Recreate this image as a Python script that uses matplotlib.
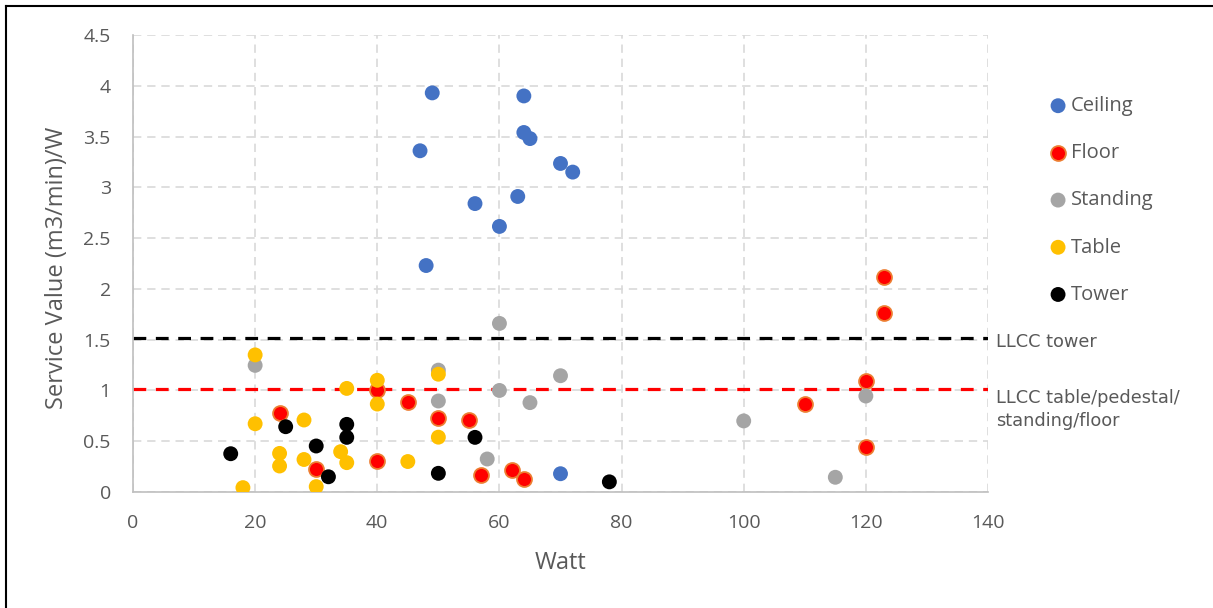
import matplotlib
matplotlib.use("Agg")
import matplotlib.pyplot as plt
from matplotlib.lines import Line2D

# ---- data ----
ceiling_w = [49, 64, 64, 65, 47, 70, 72, 56, 63, 60, 48, 70]
ceiling_v = [3.93, 3.90, 3.54, 3.48, 3.36, 3.235, 3.15, 2.84, 2.91, 2.615, 2.23, 0.18]

floor_w = [24, 30, 40, 45, 50, 55, 40, 57, 62, 64, 123, 123, 120, 110, 120]
floor_v = [0.775, 0.226, 1.0, 0.886, 0.73, 0.705, 0.308, 0.167, 0.216, 0.128, 2.12, 1.765, 1.095, 0.863, 0.446]

standing_w = [20, 50, 50, 58, 60, 60, 65, 70, 100, 115, 120]
standing_v = [1.247, 1.20, 0.896, 0.325, 1.66, 1.0, 0.88, 1.145, 0.70, 0.145, 0.945]

table_w = [20, 20, 24, 24, 28, 28, 18, 30, 35, 34, 35, 40, 40, 45, 50, 50]
table_v = [1.35, 0.672, 0.38, 0.256, 0.709, 0.32, 0.043, 0.053, 1.02, 0.397, 0.289, 1.10, 0.866, 0.30, 1.16, 0.54]

tower_w = [16, 25, 30, 32, 35, 35, 50, 56, 78]
tower_v = [0.377, 0.643, 0.453, 0.15, 0.666, 0.538, 0.184, 0.538, 0.10]

llcc_tower = 1.52
llcc_other = 1.01

x_ticks = [0, 20, 40, 60, 80, 100, 120, 140]
y_ticks = [0, 0.5, 1, 1.5, 2, 2.5, 3, 3.5, 4, 4.5]
y_tick_labels = ["0", "0.5", "1", "1.5", "2", "2.5", "3", "3.5", "4", "4.5"]

# ---- style ----
plt.rcParams['font.family'] = ['Open Sans', 'DejaVu Sans']
txt = '#595959'
W, H = 1213, 608
fig = plt.figure(figsize=(W / 100, H / 100), dpi=100)
ax = fig.add_axes([133 / W, 1 - 492 / H, (988 - 133) / W, (492 - 35) / H])

ax.set_xlim(0, 140)
ax.set_ylim(0, 4.5)
ax.set_xticks(x_ticks)
ax.set_yticks(y_ticks)
ax.set_yticklabels(y_tick_labels)
ax.tick_params(length=0, pad=16, labelsize=14, labelcolor=txt)

ax.grid(True, color='#D9D9D9', linestyle=(0, (5, 3.5)), linewidth=1.2, zorder=0)
ax.set_axisbelow(True)
for s in ['top', 'right']:
    ax.spines[s].set_visible(False)
for s in ['left', 'bottom']:
    ax.spines[s].set_color('#BFBFBF')
    ax.spines[s].set_linewidth(1.2)

# reference lines
ax.axhline(llcc_tower, color='black', linewidth=2.3, linestyle=(0, (4, 3)), zorder=2)
ax.axhline(llcc_other, color='#FF0000', linewidth=2.3, linestyle=(0, (4, 3)), zorder=2)

ms = 115
ax.scatter(ceiling_w, ceiling_v, s=ms, color='#4472C4', edgecolors='none', zorder=3, label='Ceiling')
ax.scatter(floor_w, floor_v, s=ms, color='#FF0000', edgecolors='#ED7D31', linewidths=1.3, zorder=3, label='Floor')
ax.scatter(standing_w, standing_v, s=ms, color='#A5A5A5', edgecolors='none', zorder=3, label='Standing')
ax.scatter(table_w, table_v, s=ms, color='#FFC000', edgecolors='none', zorder=3, label='Table')
ax.scatter(tower_w, tower_v, s=ms, color='#000000', edgecolors='none', zorder=3, label='Tower')

ax.set_xlabel('Watt', fontsize=17, color=txt)
ax.set_ylabel('Service Value (m3/min)/W', fontsize=17, color=txt)
ax.xaxis.set_label_coords(0.5, (492 - 563) / 457)
ax.xaxis.label.set_va('center')
ax.yaxis.set_label_coords((57 - 133) / 855, 0.49)
ax.yaxis.label.set_va('center')

ax.text(141.3, 1.48, 'LLCC tower', fontsize=12.8, color=txt, family='DejaVu Sans',
        va='center', ha='left', clip_on=False)
ax.text(141.3, 0.81, 'LLCC table/pedestal/\nstanding/floor', fontsize=12.8, color=txt,
        family='DejaVu Sans', va='center', ha='left', linespacing=1.38, clip_on=False)

leg = ax.legend(loc='upper left', bbox_to_anchor=(1050 / W, 1 - 96 / H),
                bbox_transform=fig.transFigure, frameon=False, fontsize=14.5,
                labelspacing=1.35, handlelength=0.8, handletextpad=0.25,
                borderaxespad=0, borderpad=0, scatterpoints=1, labelcolor=txt)

# figure border (left and top)
fig.add_artist(Line2D([6 / W, 6 / W], [0, 1 - 6 / H], color='black', linewidth=1.5, transform=fig.transFigure))
fig.add_artist(Line2D([6 / W, 1], [1 - 6 / H, 1 - 6 / H], color='black', linewidth=1.5, transform=fig.transFigure))

fig.savefig('out.png', dpi=100)
